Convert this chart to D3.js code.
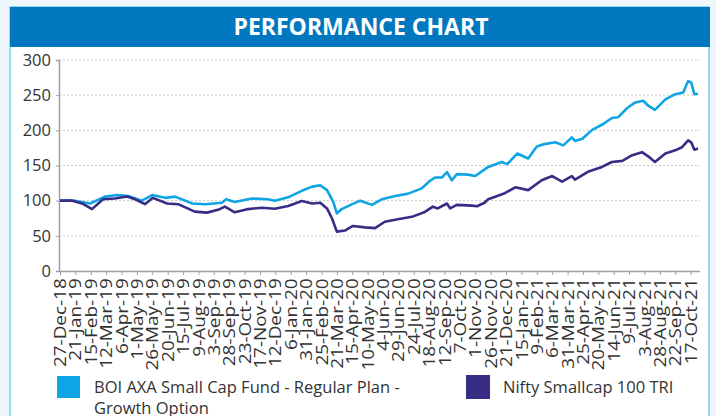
<!DOCTYPE html>
<html>
<head>
<meta charset="utf-8">
<script src="https://cdn.jsdelivr.net/npm/d3@7"></script>
<style>
  body { margin: 0; background: #eef8fc; }
  text { font-family: "Open Sans", "Noto Sans", sans-serif; }
</style>
</head>
<body>
<div id="chart"></div>
<script>
// fund: BOI AXA Small Cap Fund - Regular Plan - Growth Option
const fundDates = ["2018-12-27","2019-01-20","2019-02-14","2019-03-10","2019-03-30","2019-04-17",
  "2019-05-09","2019-05-26","2019-06-16","2019-07-02","2019-07-30","2019-08-20","2019-09-16",
  "2019-09-23","2019-10-07","2019-11-04","2019-11-30","2019-12-11","2020-01-02","2020-01-24",
  "2020-02-10","2020-02-23","2020-03-05","2020-03-15","2020-03-21","2020-03-29","2020-04-15",
  "2020-04-28","2020-05-17","2020-06-02","2020-06-24","2020-07-15","2020-08-06","2020-08-19",
  "2020-08-28","2020-09-08","2020-09-16","2020-09-24","2020-10-02","2020-10-20","2020-11-01",
  "2020-11-22","2020-12-14","2020-12-23","2021-01-08","2021-01-26","2021-02-09","2021-02-19",
  "2021-03-11","2021-03-24","2021-04-07","2021-04-12","2021-04-24","2021-05-10","2021-05-28",
  "2021-06-11","2021-06-21","2021-07-06","2021-07-19","2021-08-01","2021-08-09","2021-08-20",
  "2021-09-06","2021-09-22","2021-10-05","2021-10-13","2021-10-18","2021-10-23","2021-10-29"];
const fundValues = [100,100,96,105.7,108,106.6,
  100,108,104,105.7,96,95,97,
  102,98,103,102,100,104.7,114,
  120,122,115,98.6,82,88,95,
  100,94,102,106.6,110,117.5,128,
  133,133,140.5,129,137.7,137,135,
  148,155,152,167,160,177,180,
  183,178.6,190,185,188,200.7,209,
  217.6,218.5,231.7,239.7,242,235,229,
  244,251.4,253.8,270,268,251.4,252];

// index: Nifty Smallcap 100 TRI
const idxDates = ["2018-12-27","2019-01-16","2019-02-01","2019-02-17","2019-03-07","2019-03-26",
  "2019-04-15","2019-04-28","2019-05-14","2019-05-27","2019-06-19","2019-07-07","2019-08-03",
  "2019-08-23","2019-09-10","2019-09-21","2019-10-07","2019-10-29","2019-11-20","2019-12-11",
  "2020-01-02","2020-01-24","2020-02-10","2020-02-23","2020-03-05","2020-03-13","2020-03-21",
  "2020-04-03","2020-04-16","2020-05-06","2020-05-22","2020-06-07","2020-06-28","2020-07-21",
  "2020-08-11","2020-08-24","2020-09-01","2020-09-16","2020-09-21","2020-10-02","2020-10-27",
  "2020-11-04","2020-11-16","2020-11-22","2020-12-19","2021-01-05","2021-01-26","2021-02-17",
  "2021-03-06","2021-03-22","2021-04-07","2021-04-12","2021-05-03","2021-05-26","2021-06-11",
  "2021-06-28","2021-07-14","2021-07-30","2021-08-09","2021-08-20","2021-09-06","2021-09-22",
  "2021-10-03","2021-10-13","2021-10-18","2021-10-23","2021-10-29"];
const idxValues = [100,100,96,88,102,103,
  106,102,95,104,96,95,84.4,
  83,87,91.5,83.5,88,90,88.5,
  92.5,99.5,96,97,89,75,56,
  57.5,64,62,61,70,73.6,77,
  84,91.5,89,96,89,94,93,
  92,97,102,110.6,119,115,129,
  135,127,135,130,141,148,155,
  156.6,164.6,169,163,155,167,171.6,
  176,185.7,183,172.5,174];

const xTickLabels = ["27-Dec-18","21-Jan-19","15-Feb-19","12-Mar-19","6-Apr-19","1-May-19",
  "26-May-19","20-Jun-19","15-Jul-19","9-Aug-19","3-Sep-19","28-Sep-19","23-Oct-19",
  "17-Nov-19","12-Dec-19","6-Jan-20","31-Jan-20","25-Feb-20","21-Mar-20","15-Apr-20",
  "10-May-20","4-Jun-20","29-Jun-20","24-Jul-20","18-Aug-20","12-Sep-20","7-Oct-20",
  "1-Nov-20","26-Nov-20","21-Dec-20","15-Jan-21","9-Feb-21","6-Mar-21","31-Mar-21",
  "25-Apr-21","20-May-21","14-Jun-21","9-Jul-21","3-Aug-21","28-Aug-21","22-Sep-21","17-Oct-21"];
const yTicks = [0, 50, 100, 150, 200, 250, 300];

const seriesNames = ["BOI AXA Small Cap Fund - Regular Plan -", "Nifty Smallcap 100 TRI"];
const colors = ["#0ea5e4", "#372d85"];

const W = 716, H = 416;
const parse = d3.timeParse("%Y-%m-%d");
const parseTick = d3.timeParse("%d-%b-%y");

const svg = d3.select("#chart").append("svg")
  .attr("width", W)
  .attr("height", H)
  .style("display", "block");

// panel + title
svg.append("rect")
  .attr("x", 10).attr("y", 7)
  .attr("width", 699).attr("height", 420)
  .attr("fill", "#fff")
  .attr("stroke", "#74cfe9")
  .attr("stroke-width", 1.5);

svg.append("rect")
  .attr("x", 10).attr("y", 7)
  .attr("width", 700).attr("height", 40)
  .attr("fill", "#0077bf");

svg.append("text")
  .attr("x", 361).attr("y", 27)
  .attr("dy", "0.36em")
  .attr("text-anchor", "middle")
  .attr("fill", "#fff")
  .style("font-size", "23px")
  .style("font-weight", "bold")
  .text("PERFORMANCE CHART");

// scales
const x = d3.scaleTime()
  .domain([parse("2018-12-27"), parse("2021-10-29")])
  .range([60, 698]);

const y = d3.scaleLinear()
  .domain([0, 300])
  .range([271, 60]);

// grid
svg.append("g")
  .selectAll("line")
  .data(yTicks.filter(d => d > 0))
  .join("line")
  .attr("x1", 59).attr("x2", 700)
  .attr("y1", d => y(d)).attr("y2", d => y(d))
  .attr("stroke", "#c8c8c8")
  .attr("stroke-dasharray", "2,2");

// y axis
const gy = svg.append("g")
  .attr("transform", "translate(59,0)")
  .call(d3.axisLeft(y).tickValues(yTicks).tickSize(3).tickPadding(5));
gy.select(".domain").attr("stroke", "#a0a0a0").attr("stroke-width", 1.5);
gy.selectAll(".tick line").attr("stroke", "#a0a0a0");
gy.selectAll("text").style("font-size", "16.5px").attr("fill", "#333");

// x axis
const gx = svg.append("g")
  .attr("transform", "translate(0,271)")
  .call(d3.axisBottom(x)
    .tickValues(xTickLabels.map(parseTick))
    .tickFormat((d, i) => xTickLabels[i])
    .tickSizeOuter(0)
    .tickSize(4)
    .tickPadding(4));
gx.select(".domain").attr("stroke", "#a0a0a0").attr("stroke-width", 1.5)
  .attr("d", "M59,0.5H700");
gx.selectAll(".tick line").attr("stroke", "#a0a0a0");
// labels read downwards, stretched along their length like the narrow original font
gx.selectAll("text")
  .style("font-size", "15.5px")
  .attr("fill", "#333")
  .attr("text-anchor", "end")
  .attr("transform", "rotate(-90) scale(1.22,1)")
  .attr("x", -6)
  .attr("y", 0)
  .attr("dy", "0.36em");

// lines
const line = d3.line()
  .x(d => x(d[0]))
  .y(d => y(d[1]));

const fundData = fundDates.map((d, i) => [parse(d), fundValues[i]]);
const idxData = idxDates.map((d, i) => [parse(d), idxValues[i]]);

svg.append("path")
  .datum(fundData)
  .attr("d", line)
  .attr("fill", "none")
  .attr("stroke", colors[0])
  .attr("stroke-width", 2.6)
  .attr("stroke-linejoin", "round");

svg.append("path")
  .datum(idxData)
  .attr("d", line)
  .attr("fill", "none")
  .attr("stroke", colors[1])
  .attr("stroke-width", 2.6)
  .attr("stroke-linejoin", "round");

// legend
const leg = svg.append("g");
leg.append("rect").attr("x", 57).attr("y", 376).attr("width", 23).attr("height", 22).attr("fill", colors[0]);
leg.append("text").attr("x", 94).attr("y", 393)
  .style("font-size", "16.5px").attr("fill", "#333").text(seriesNames[0]);
leg.append("text").attr("x", 94).attr("y", 414)
  .style("font-size", "16.5px").attr("fill", "#333").text("Growth Option");

leg.append("rect").attr("x", 466).attr("y", 375).attr("width", 24).attr("height", 24).attr("fill", colors[1]);
leg.append("text").attr("x", 503).attr("y", 393)
  .style("font-size", "16.5px").attr("fill", "#333").text(seriesNames[1]);
</script>
</body>
</html>
